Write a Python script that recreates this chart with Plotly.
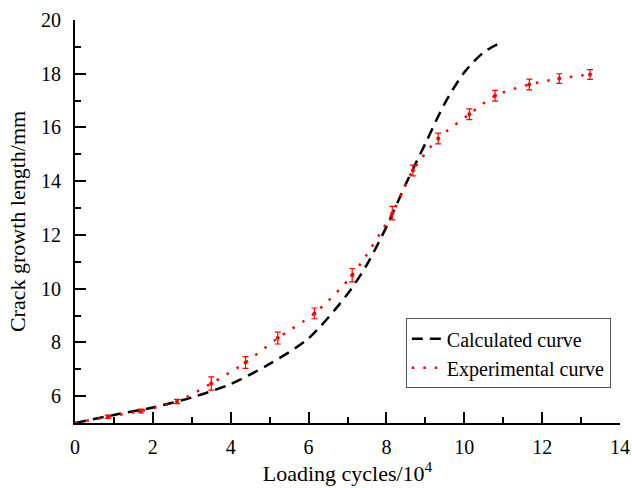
import plotly.graph_objects as go

# Calculated curve
calc_x = [0, 1, 2, 3, 4, 5, 6, 7, 7.5, 8, 8.5, 9, 9.5, 10, 10.5, 11]
calc_y = [5.0, 5.3, 5.58, 5.95, 6.45, 7.2, 8.15, 9.8, 10.9, 12.3, 13.9, 15.4, 16.9, 18.05, 18.8, 19.2]

# Experimental curve (measured points with error bars)
exp_x = [0.84, 1.69, 2.62, 3.5, 4.38, 5.21, 6.15, 7.12, 8.15, 8.68, 9.33, 10.13, 10.79, 11.67, 12.44, 13.23]
exp_y = [5.23, 5.45, 5.8, 6.47, 7.25, 8.16, 9.08, 10.5, 12.81, 14.4, 15.59, 16.49, 17.18, 17.6, 17.82, 17.97]
exp_err = [0.06, 0.07, 0.08, 0.25, 0.22, 0.22, 0.2, 0.25, 0.25, 0.2, 0.2, 0.2, 0.2, 0.2, 0.18, 0.18]
start_x = [0]
start_y = [5.0]

x_ticks = [0, 2, 4, 6, 8, 10, 12, 14]
y_ticks = [6, 8, 10, 12, 14, 16, 18, 20]

font = "Times New Roman, Liberation Serif, serif"

fig = go.Figure()
fig.add_trace(go.Scatter(
    x=calc_x, y=calc_y, mode="lines", name="Calculated curve",
    line=dict(color="black", width=2.5, dash="11px,7px", shape="spline", smoothing=0.8),
))
fig.add_trace(go.Scatter(
    x=start_x + exp_x, y=start_y + exp_y, mode="lines", name="Experimental curve",
    line=dict(color="red", width=2.5, dash="2.5px,9px", shape="spline", smoothing=0.8),
))
fig.add_trace(go.Scatter(
    x=exp_x, y=exp_y, mode="markers", showlegend=False,
    marker=dict(color="red", size=4),
    error_y=dict(type="data", array=exp_err, visible=True, color="red", thickness=1.2, width=3),
))

axis_common = dict(
    showgrid=False, zeroline=False, showline=True, linecolor="black", linewidth=2,
    ticks="inside", ticklen=11, tickwidth=2, tickcolor="black",
    tickfont=dict(size=20),
    minor=dict(ticks="inside", ticklen=6, tickwidth=2, tickcolor="black", dtick=1),
)

fig.update_xaxes(range=[0, 14], tickvals=x_ticks, ticktext=[str(v) for v in x_ticks],
                 ticklabelstandoff=5, automargin="bottom",
                 title=dict(text="Loading cycles/10<sup>4</sup>", font=dict(size=22), standoff=4),
                 **axis_common)
fig.update_yaxes(range=[5, 20], tickvals=y_ticks, ticktext=[str(v) for v in y_ticks],
                 ticklabelstandoff=8, automargin="left",
                 title=dict(text="Crack growth length/mm", font=dict(size=22), standoff=9),
                 **axis_common)

fig.update_layout(
    width=632, height=488,
    font=dict(family=font, size=20, color="black"),
    margin=dict(l=75, r=12, t=20, b=65),
    plot_bgcolor="white", paper_bgcolor="white",
    legend=dict(x=0.607, y=0.26, xanchor="left", yanchor="top",
                bordercolor="#555", borderwidth=1, bgcolor="white",
                font=dict(size=20),
                tracegroupgap=0, itemwidth=30),
)

fig.write_html("out.html")
